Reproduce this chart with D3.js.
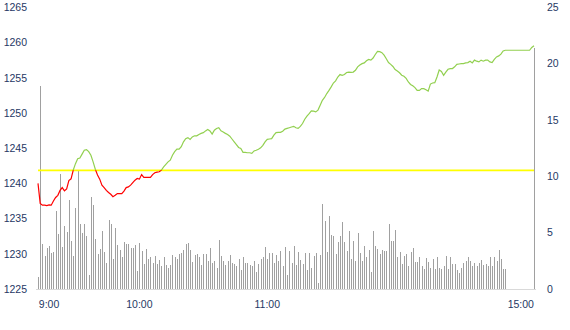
<!DOCTYPE html>
<html>
<head>
<meta charset="utf-8">
<script src="https://cdnjs.cloudflare.com/ajax/libs/d3/7.8.5/d3.min.js"></script>
<style>
  body { margin: 0; background: #fff; }
  svg text { font-family: "Liberation Sans", Arial, sans-serif; font-size: 10.5px; fill: #1f3864; }
</style>
</head>
<body>
<svg id="chart" width="570" height="330"></svg>
<script>

// Previous close (yellow reference line)
prev_close = 1241.85

// Price per bar (9:00 open .. 15:00 close)
price = [
  1240.0, 1237.15, 1236.9, 1236.9, 1236.85, 1236.95, 1236.9, 1237.5, 1238.0, 1238.3,
  1239.0, 1239.4, 1238.95, 1239.2, 1240.4, 1240.65, 1241.9, 1242.8, 1243.5, 1243.6,
  1244.15, 1244.7, 1244.8, 1244.5, 1244.0, 1243.05, 1242.0, 1241.2, 1240.6, 1239.75,
  1239.4, 1239.0, 1238.7, 1238.45, 1238.1, 1238.3, 1238.55, 1238.55,
  1238.55, 1238.9, 1239.4, 1239.5, 1239.75, 1240.1, 1240.45, 1240.7, 1240.6, 1241.25,
  1240.85, 1240.85, 1240.85, 1240.85, 1241.25, 1241.5, 1241.6, 1241.65, 1241.9, 1242.35,
  1242.7, 1243.05, 1243.3, 1244.0, 1244.5, 1244.85, 1244.85, 1245.2, 1245.9, 1246.35,
  1246.5, 1246.25, 1246.6, 1246.75, 1246.75, 1246.95, 1247.1, 1247.2,
  1247.45, 1247.65, 1247.45, 1247.0, 1247.55, 1247.8, 1247.9, 1247.45, 1247.3, 1247.1,
  1246.95, 1246.7, 1246.3, 1245.9, 1245.5, 1245.1, 1244.95, 1244.4, 1244.4, 1244.35,
  1244.35, 1244.25, 1244.6, 1244.7, 1244.85, 1245.05, 1245.4, 1245.9, 1246.25, 1246.3,
  1246.35, 1246.85, 1247.2, 1247.25, 1247.25, 1247.4, 1247.7,
  1247.8, 1247.9, 1248.0, 1248.1, 1247.9, 1247.8, 1248.1, 1248.5, 1249.1, 1249.55,
  1249.9, 1250.3, 1250.25, 1250.15, 1250.4, 1251.1, 1251.8, 1252.2, 1252.75, 1253.2,
  1253.7, 1254.25, 1254.55, 1255.1, 1255.45, 1255.35, 1255.45, 1255.75, 1255.8, 1255.75,
  1255.8, 1256.05, 1256.55, 1256.8, 1257.0, 1257.1, 1257.4, 1257.6,
  1257.5, 1257.8, 1258.3, 1258.75, 1258.7, 1258.55, 1258.2, 1257.7, 1257.15, 1256.9,
  1256.6, 1256.15, 1255.95, 1255.7, 1255.35, 1255.2, 1254.9, 1254.4, 1254.05, 1253.85,
  1253.6, 1253.2, 1253.2, 1253.45, 1253.45, 1253.3, 1253.1, 1254.1, 1254.25, 1254.3,
  1255.1, 1256.1, 1255.9, 1255.35, 1255.8, 1256.2, 1256.3, 1256.3,
  1256.55, 1256.9, 1256.95, 1257.0, 1257.0, 1257.1, 1257.15, 1257.35, 1257.1, 1257.5,
  1257.35, 1257.25, 1257.5, 1257.35, 1257.5, 1257.5, 1257.25, 1257.15, 1257.6, 1257.95,
  1258.1, 1258.35, 1258.8, 1258.9,
  1258.9, 1258.9, 1258.9, 1258.9, 1258.9, 1258.9, 1258.9, 1258.9, 1258.9, 1258.9,
  1258.9, 1259.3, 1259.55
]

// Volume per bar (right axis)
volume = [
  1.1, 18.0, 4.0, 2.95, 3.66, 3.8, 3.2, 3.3, 6.9, 4.9,
  10.2, 3.75, 5.6, 5.1, 7.9, 4.25, 2.9, 7.2, 10.5, 5.75,
  5.0, 5.75, 4.7, 1.2, 8.2, 7.45, 4.4, 3.1, 3.55, 5.15,
  3.25, 2.3, 6.1, 5.75, 2.65, 5.4, 3.9, 3.45,
  2.8, 4.15, 3.95, 3.95, 3.65, 3.65, 3.9, 1.6, 4.1, 3.35,
  2.25, 3.55, 2.65, 2.8, 2.35, 2.95, 2.2, 2.55, 2.05, 2.85,
  2.1, 1.9, 2.1, 3.0, 2.8, 2.65, 3.1, 3.2, 3.45, 3.95,
  4.05, 3.45, 2.4, 3.0, 3.1, 2.8, 2.1, 3.15,
  3.15, 2.5, 3.65, 2.35, 2.5, 1.85, 4.35, 2.95, 2.5, 2.1,
  2.5, 3.0, 2.35, 2.25, 2.05, 2.65, 1.7, 2.8, 2.35, 2.35,
  2.1, 2.0, 2.5, 1.5, 2.2, 2.65, 2.8, 3.75, 2.65, 3.2,
  3.2, 2.35, 3.0, 2.5, 3.35, 2.0, 3.75,
  1.2, 3.4, 2.35, 3.8, 2.1, 3.3, 2.55, 2.2, 3.2, 1.7,
  3.2, 1.85, 2.9, 3.2, 0.55, 3.0, 7.5, 6.0, 3.3, 6.5,
  4.8, 4.7, 3.1, 4.2, 4.7, 5.95, 4.2, 3.35, 5.15, 2.65,
  4.25, 2.5, 5.0, 3.2, 2.5, 3.8, 2.8, 3.45,
  1.5, 5.15, 3.8, 3.55, 3.15, 3.45, 3.35, 3.35, 5.75, 4.25,
  4.25, 5.25, 2.85, 3.25, 2.2, 2.95, 3.15, 2.0, 3.3, 3.65,
  2.4, 2.4, 2.8, 2.05, 1.75, 2.75, 2.4, 1.85, 2.65, 1.75,
  2.85, 1.9, 1.8, 2.0, 2.95, 1.75, 2.85, 2.2,
  2.2, 1.7, 1.45, 1.9, 2.35, 2.45, 2.8, 2.5, 2.0, 2.35,
  2.05, 2.35, 2.6, 2.1, 2.2, 2.0, 2.85, 2.0, 2.85, 2.45,
  3.45, 2.65, 1.75, 1.75,
  0, 0, 0, 0, 0, 0, 0, 0, 0, 0,
  0, 0, 21.4
]

// Axis ticks
price_ticks = [1225, 1230, 1235, 1240, 1245, 1250, 1255, 1260, 1265]
volume_ticks = [0, 5, 10, 15, 20, 25]
time_tick_idx = [5, 46, 104, 219]
time_tick_labels = ['9:00', '10:00', '11:00', '15:00']

function intradayChart() {

    var svg = d3.select('#chart');
    var left = 38, right = 534, top = 7.3, bottom = 289;

    var x = d3.scaleLinear().domain([0, price.length - 1]).range([left, right]);
    var yPrice = d3.scaleLinear().domain([1225, 1265]).range([bottom, top]);
    var yVol = d3.scaleLinear().domain([0, 25]).range([bottom, top]);

    // clip regions above / below the previous close
    var defs = svg.append('defs');
    defs.append('clipPath').attr('id', 'above')
        .append('rect')
        .attr('x', 0).attr('y', 0).attr('width', 570).attr('height', yPrice(prev_close));
    defs.append('clipPath').attr('id', 'below')
        .append('rect')
        .attr('x', 0).attr('y', yPrice(prev_close)).attr('width', 570).attr('height', 330 - yPrice(prev_close));

    // baseline
    svg.append('line')
        .attr('x1', left - 2).attr('x2', right + 2)
        .attr('y1', bottom + 0.5).attr('y2', bottom + 0.5)
        .attr('stroke', '#d9d9d9').attr('stroke-width', 1);

    // volume bars, 1px wide
    svg.append('g')
        .attr('shape-rendering', 'crispEdges')
        .selectAll('rect')
        .data(volume)
        .enter().append('rect')
        .attr('x', function(d, i) { return Math.round(x(i)); })
        .attr('y', function(d) { return Math.round(yVol(d)); })
        .attr('width', 1)
        .attr('height', function(d) { return bottom - Math.round(yVol(d)); })
        .attr('fill', '#a0a0a0');

    // previous close line
    svg.append('line')
        .attr('x1', x(0)).attr('x2', x(price.length - 1))
        .attr('y1', yPrice(prev_close)).attr('y2', yPrice(prev_close))
        .attr('stroke', '#ffff00').attr('stroke-width', 1.6);

    // price line, green above prev close and red below
    var line = d3.line()
        .x(function(d, i) { return x(i); })
        .y(function(d) { return yPrice(d); });

    svg.append('path')
        .datum(price)
        .attr('d', line)
        .attr('clip-path', 'url(#above)')
        .attr('fill', 'none')
        .attr('stroke', '#92d050')
        .attr('stroke-width', 1.2);

    svg.append('path')
        .datum(price)
        .attr('d', line)
        .attr('clip-path', 'url(#below)')
        .attr('fill', 'none')
        .attr('stroke', '#ff0000')
        .attr('stroke-width', 1.2);

    // left axis labels
    svg.append('g')
        .selectAll('text')
        .data(price_ticks)
        .enter().append('text')
        .attr('x', 27)
        .attr('y', function(d) { return yPrice(d); })
        .attr('dy', '0.36em')
        .attr('text-anchor', 'end')
        .text(function(d) { return d; });

    // right axis labels
    svg.append('g')
        .selectAll('text')
        .data(volume_ticks)
        .enter().append('text')
        .attr('x', 547)
        .attr('y', function(d) { return yVol(d); })
        .attr('dy', '0.36em')
        .attr('text-anchor', 'start')
        .text(function(d) { return d; });

    // time labels
    svg.append('g')
        .selectAll('text')
        .data(time_tick_idx)
        .enter().append('text')
        .attr('x', function(d) { return x(d); })
        .attr('y', 304)
        .attr('dy', '0.36em')
        .attr('text-anchor', 'middle')
        .text(function(d, i) { return time_tick_labels[i]; });
}

intradayChart();
</script>
</body>
</html>
